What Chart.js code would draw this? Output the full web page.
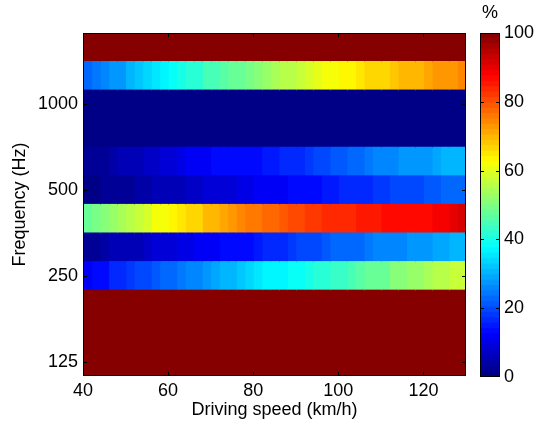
<!DOCTYPE html>
<html>
<head>
<meta charset="utf-8">
<script src="https://cdn.jsdelivr.net/npm/chart.js@4.4.1/dist/chart.umd.min.js"></script>
<style>
  body { margin: 0; background: #fff; }
  #wrap { position: relative; width: 547px; height: 425px; }
  #heat { position: absolute; left: 0; top: 0; }
  #bar { position: absolute; left: 470px; top: 0; }
</style>
</head>
<body>
<div id="wrap">
  <canvas id="heat" width="547" height="425"></canvas>
  <canvas id="bar" width="77" height="425"></canvas>
</div>
<script>
// column centres (km/h), each column is 2 km/h wide
const speeds = [41, 43, 45, 47, 49, 51, 53, 55, 57, 59, 61, 63, 65, 67, 69, 71, 73, 75, 77, 79, 81, 83, 85,
                87, 89, 91, 93, 95, 97, 99, 101, 103, 105, 107, 109, 111, 113, 115, 117, 119, 121, 123, 125, 127, 129];
const colWidth = 2;

// third-octave bands, top to bottom
const bands = ['1600', '1250', '1000', '800', '630', '500', '400', '315', '250', '200', '160', '125'];
const labelledBands = ['1000', '500', '250', '125'];
const xTicks = [40, 60, 80, 100, 120];
const barTicks = [0, 20, 40, 60, 80, 100];

// values in %
const full = 100;
const none = 0;
const hz1250 = [22, 24, 25, 27, 28, 30, 32, 33, 35, 37, 38, 40, 41, 42, 44, 45, 46, 47, 48, 49, 51, 52, 54,
                55, 56, 57, 58, 60, 61, 62, 63, 64, 65, 66, 66, 67, 68, 69, 70, 70, 71, 72, 72, 73, 74];
const hz630 = [2, 3, 3, 4, 5, 5, 6, 7, 7, 8, 9, 10, 11, 11, 12, 13, 13, 13, 14, 14, 14, 15, 15,
               16, 17, 17, 18, 19, 20, 21, 21, 22, 23, 24, 25, 25, 26, 27, 27, 28, 28, 29, 30, 30, 31];
const hz500 = [1, 1, 2, 2, 3, 3, 4, 4, 5, 5, 6, 6, 7, 7, 8, 8, 9, 9, 10, 10, 11, 11, 12,
               12, 13, 13, 14, 14, 15, 15, 16, 16, 17, 17, 18, 18, 19, 19, 20, 20, 21, 21, 22, 22, 23];
const hz400 = [47, 49, 50, 52, 54, 55, 57, 59, 61, 62, 63, 65, 66, 67, 69, 70, 71, 72, 74, 75, 76, 77, 78,
               79, 80, 81, 82, 82, 83, 83, 84, 84, 85, 85, 85, 86, 86, 86, 87, 87, 87, 88, 89, 90, 91];
const hz315 = [2, 3, 4, 5, 5, 6, 6, 7, 8, 8, 9, 10, 10, 11, 12, 12, 13, 13, 14, 14, 15, 16, 17,
               17, 18, 19, 19, 20, 21, 22, 22, 23, 23, 24, 25, 25, 26, 26, 27, 28, 28, 29, 29, 30, 31];
const hz250 = [12, 14, 14, 16, 17, 18, 19, 20, 21, 22, 23, 24, 25, 26, 28, 29, 30, 31, 32, 34, 35, 36, 37,
               37, 38, 39, 40, 41, 42, 43, 43, 45, 46, 47, 47, 48, 50, 51, 52, 53, 54, 55, 56, 57, 57];

const levels = {
    '1600': full, '1250': hz1250, '1000': none, '800': none, '630': hz630, '500': hz500,
    '400': hz400, '315': hz315, '250': hz250, '200': full, '160': full, '125': full
};

function valueAt(band, i) {
    const row = levels[band];
    return Array.isArray(row) ? row[i] : row;
}

// matlab-like jet, 64 levels
function jet(pct) {
    const k = Math.max(0, Math.min(63, Math.floor(pct / 100 * 64)));
    const v = (k + 0.5) / 64;
    const c = t => Math.round(255 * Math.max(0, Math.min(1, 1.5 - Math.abs(4 * v - t))));
    return `rgb(${c(3)},${c(2)},${c(1)})`;
}

const font = { family: '"Liberation Sans", Arial, sans-serif', size: 18 };

// black frame + inward tick marks like matlab
const boxPlugin = {
    id: 'box',
    afterDatasetsDraw(chart) {
        const { ctx, chartArea: a } = chart;
        const len = 4;
        ctx.save();
        ctx.strokeStyle = '#000';
        ctx.lineWidth = 1;
        ctx.beginPath();
        Object.values(chart.scales).forEach(s => {
            if (s.options.display === false) return;
            s.ticks.forEach((t, i) => {
                if (t.label === '' || t.label === undefined) return;
                const p = Math.round(s.getPixelForTick(i)) + 0.5;
                if (s.isHorizontal()) {
                    if (p <= a.left + 1 || p >= a.right - 1) return;
                    ctx.moveTo(p, a.bottom); ctx.lineTo(p, a.bottom - len);
                    ctx.moveTo(p, a.top); ctx.lineTo(p, a.top + len);
                } else {
                    if (p <= a.top + 1 || p >= a.bottom - 1) return;
                    ctx.moveTo(a.left, p); ctx.lineTo(a.left + len, p);
                    ctx.moveTo(a.right, p); ctx.lineTo(a.right - len, p);
                }
            });
        });
        ctx.stroke();
        ctx.strokeRect(Math.round(a.left) + 0.5, Math.round(a.top) + 0.5,
                       Math.round(a.right - a.left) - 1, Math.round(a.bottom - a.top) - 1);
        ctx.restore();
    }
};

const unitPlugin = {
    id: 'unit',
    afterDraw(chart) {
        const { ctx, chartArea: a } = chart;
        ctx.save();
        ctx.fillStyle = '#000';
        ctx.font = `${font.size}px ${font.family}`;
        ctx.textAlign = 'center';
        ctx.textBaseline = 'middle';
        ctx.fillText('%', (a.left + a.right) / 2, a.top - 20);
        ctx.restore();
    }
};

const heatSets = speeds.map((s, i) => ({
    data: bands.map(() => [s - colWidth / 2, s + colWidth / 2]),
    backgroundColor: bands.map(b => jet(valueAt(b, i))),
    borderWidth: 0,
    grouped: false,
    barPercentage: 1,
    categoryPercentage: 1,
    inflateAmount: 0.6
}));

new Chart(document.getElementById('heat'), {
    type: 'bar',
    data: { labels: bands, datasets: heatSets },
    options: {
        indexAxis: 'y',
        responsive: false,
        animation: false,
        devicePixelRatio: 1,
        layout: { padding: { left: 0, top: 33, right: 81, bottom: 0 } },
        plugins: { legend: { display: false }, tooltip: { enabled: false } },
        scales: {
            x: {
                type: 'linear',
                min: 40,
                max: 130,
                afterBuildTicks: axis => { axis.ticks = xTicks.map(v => ({ value: v })); },
                afterFit: s => { s.height = 49; },
                grid: { display: false, drawTicks: false },
                border: { display: false },
                ticks: { color: '#000', font: font, padding: 4, maxRotation: 0 },
                title: { display: true, text: 'Driving speed (km/h)', color: '#000', font: font, padding: { top: 0, bottom: 4 } }
            },
            y: {
                type: 'category',
                afterFit: s => { s.width = 83; },
                grid: { display: false, drawTicks: false },
                border: { display: false },
                ticks: {
                    color: '#000',
                    font: font,
                    padding: 5,
                    autoSkip: false,
                    callback: function (v) {
                        const l = this.getLabelForValue(v);
                        return labelledBands.includes(l) ? l : '';
                    }
                },
                title: { display: true, text: 'Frequency (Hz)', color: '#000', font: font, padding: { top: 9, bottom: 0 } }
            }
        }
    },
    plugins: [boxPlugin]
});

// colour bar: 64 stacked steps of the colormap
const barSets = Array.from({ length: 64 }, (_, k) => ({
    data: [100 / 64],
    backgroundColor: jet((k + 0.5) * 100 / 64),
    borderWidth: 0,
    barPercentage: 1,
    categoryPercentage: 1,
    inflateAmount: 0.6
}));

new Chart(document.getElementById('bar'), {
    type: 'bar',
    data: { labels: ['%'], datasets: barSets },
    options: {
        responsive: false,
        animation: false,
        devicePixelRatio: 1,
        layout: { padding: { left: 10, top: 33, right: 0, bottom: 48 } },
        plugins: { legend: { display: false }, tooltip: { enabled: false } },
        scales: {
            x: { display: false, stacked: true },
            y: {
                stacked: true,
                position: 'right',
                min: 0,
                max: 100,
                afterBuildTicks: axis => { axis.ticks = barTicks.map(v => ({ value: v })); },
                afterFit: s => { s.width = 47; },
                grid: { display: false, drawTicks: false },
                border: { display: false },
                ticks: { color: '#000', font: font, padding: 4 }
            }
        }
    },
    plugins: [boxPlugin, unitPlugin]
});
</script>
</body>
</html>
